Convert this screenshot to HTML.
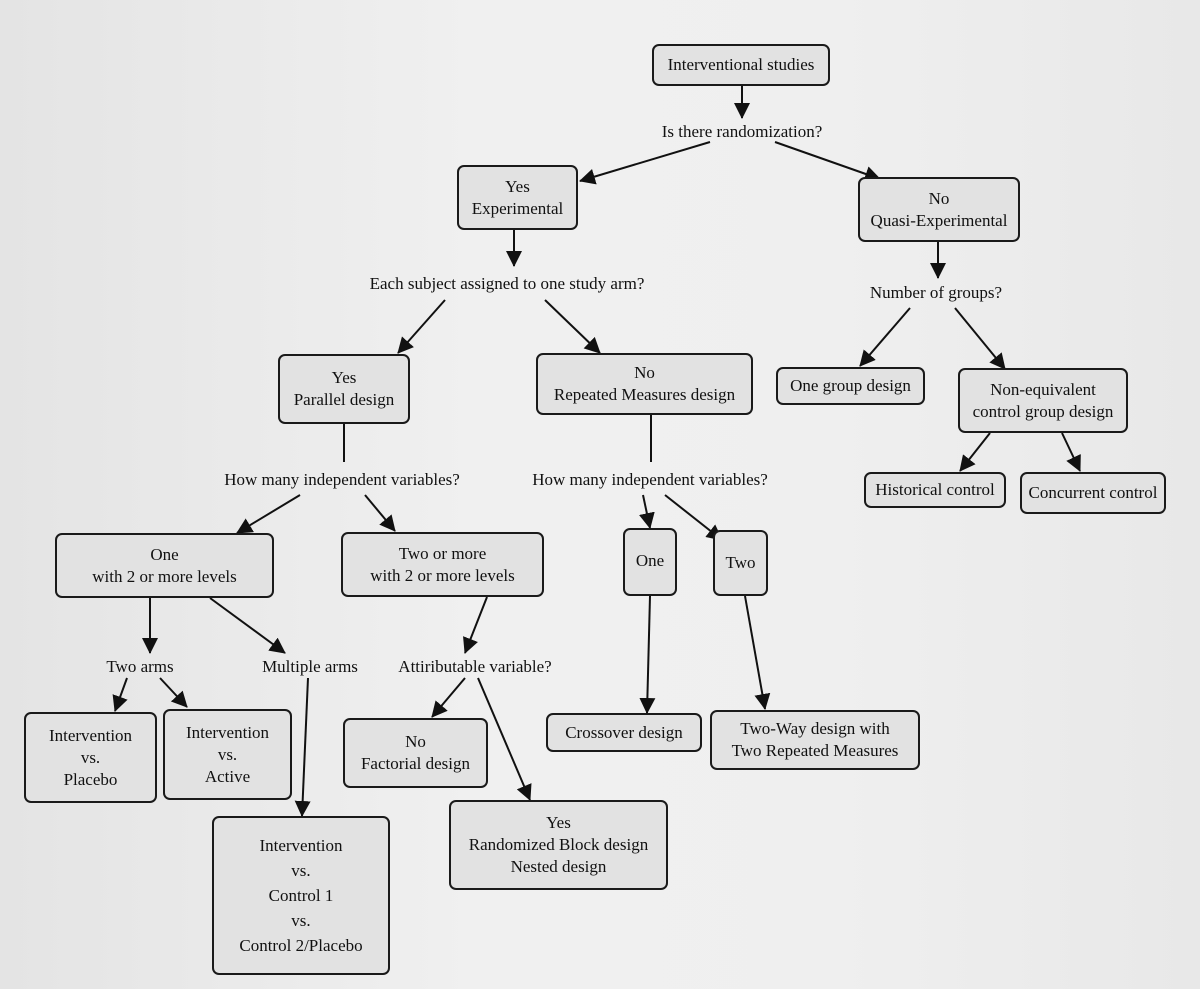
<!DOCTYPE html>
<html><head><meta charset="utf-8"><style>
html,body{margin:0;padding:0;}
body{width:1200px;height:989px;background:linear-gradient(90deg,#e4e4e4,#f0f0f0 40%,#efefef 70%,#e8e8e8);overflow:hidden;position:relative;font-family:"Liberation Serif",serif;color:#111;}
.b{position:absolute;box-sizing:border-box;border:2px solid #1a1a1a;border-radius:7px;background:#e2e2e2;display:flex;align-items:center;justify-content:center;text-align:center;font-size:17px;line-height:22px;}
.t{position:absolute;font-size:17px;white-space:nowrap;transform:translateX(-50%);}
svg{position:absolute;left:0;top:0;}
</style></head><body>
<svg width="1200" height="989">
<defs><marker id="a" markerWidth="10" markerHeight="10" refX="9" refY="5" orient="auto" markerUnits="userSpaceOnUse"><path d="M0,0 L10,5 L0,10 z" fill="#111"/></marker>
<marker id="h" markerWidth="16" markerHeight="16" refX="15" refY="8" orient="auto" markerUnits="userSpaceOnUse"><path d="M0,0 L16,8 L0,16 z" fill="#111"/></marker></defs>
<g stroke="#111" stroke-width="2" fill="none" marker-end="url(#h)">
<line x1="742" y1="86" x2="742" y2="118"/>
<line x1="710" y1="142" x2="580" y2="181"/>
<line x1="775" y1="142" x2="880" y2="179"/>
<line x1="514" y1="230" x2="514" y2="266"/>
<line x1="938" y1="242" x2="938" y2="278"/>
<line x1="445" y1="300" x2="398" y2="353"/>
<line x1="545" y1="300" x2="600" y2="353"/>
<line x1="910" y1="308" x2="860" y2="366"/>
<line x1="955" y1="308" x2="1005" y2="369"/>
<line x1="300" y1="495" x2="237" y2="533"/>
<line x1="365" y1="495" x2="395" y2="531"/>
<line x1="643" y1="495" x2="650" y2="528"/>
<line x1="665" y1="495" x2="722" y2="540"/>
<line x1="150" y1="598" x2="150" y2="653"/>
<line x1="210" y1="598" x2="285" y2="653"/>
<line x1="487" y1="597" x2="465" y2="653"/>
<line x1="127" y1="678" x2="115" y2="711"/>
<line x1="160" y1="678" x2="187" y2="707"/>
<line x1="308" y1="678" x2="302" y2="816"/>
<line x1="465" y1="678" x2="432" y2="717"/>
<line x1="478" y1="678" x2="530" y2="800"/>
<line x1="650" y1="596" x2="647" y2="713"/>
<line x1="745" y1="596" x2="765" y2="709"/>
<line x1="990" y1="433" x2="960" y2="471"/>
<line x1="1062" y1="433" x2="1080" y2="471"/>
</g>
<g stroke="#111" stroke-width="2">
<line x1="344" y1="424" x2="344" y2="462"/>
<line x1="651" y1="415" x2="651" y2="462"/>
</g>
</svg>
<div class="b" style="left:652px;top:44px;width:178px;height:42px;">Interventional studies</div>
<div class="t" style="left:742px;top:122px;">Is there randomization?</div>
<div class="b" style="left:457px;top:165px;width:121px;height:65px;">Yes<br>Experimental</div>
<div class="b" style="left:858px;top:177px;width:162px;height:65px;">No<br>Quasi-Experimental</div>
<div class="t" style="left:507px;top:274px;">Each subject assigned to one study arm?</div>
<div class="t" style="left:936px;top:283px;">Number of groups?</div>
<div class="b" style="left:278px;top:354px;width:132px;height:70px;">Yes<br>Parallel design</div>
<div class="b" style="left:536px;top:353px;width:217px;height:62px;">No<br>Repeated Measures design</div>
<div class="b" style="left:776px;top:367px;width:149px;height:38px;">One group design</div>
<div class="b" style="left:958px;top:368px;width:170px;height:65px;">Non-equivalent<br>control group design</div>
<div class="b" style="left:864px;top:472px;width:142px;height:36px;">Historical control</div>
<div class="b" style="left:1020px;top:472px;width:146px;height:42px;">Concurrent control</div>
<div class="t" style="left:342px;top:470px;">How many independent variables?</div>
<div class="t" style="left:650px;top:470px;">How many independent variables?</div>
<div class="b" style="left:55px;top:533px;width:219px;height:65px;">One<br>with 2 or more levels</div>
<div class="b" style="left:341px;top:532px;width:203px;height:65px;">Two or more<br>with 2 or more levels</div>
<div class="b" style="left:623px;top:528px;width:54px;height:68px;align-items:flex-start;padding-top:20px;">One</div>
<div class="b" style="left:713px;top:530px;width:55px;height:66px;align-items:flex-start;padding-top:20px;">Two</div>
<div class="t" style="left:140px;top:657px;">Two arms</div>
<div class="t" style="left:310px;top:657px;">Multiple arms</div>
<div class="t" style="left:475px;top:657px;">Attiributable variable?</div>
<div class="b" style="left:24px;top:712px;width:133px;height:91px;">Intervention<br>vs.<br>Placebo</div>
<div class="b" style="left:163px;top:709px;width:129px;height:91px;">Intervention<br>vs.<br>Active</div>
<div class="b" style="left:343px;top:718px;width:145px;height:70px;">No<br>Factorial design</div>
<div class="b" style="left:546px;top:713px;width:156px;height:39px;">Crossover design</div>
<div class="b" style="left:710px;top:710px;width:210px;height:60px;">Two-Way design with<br>Two Repeated Measures</div>
<div class="b" style="left:449px;top:800px;width:219px;height:90px;">Yes<br>Randomized Block design<br>Nested design</div>
<div class="b" style="left:212px;top:816px;width:178px;height:159px;line-height:25px;">Intervention<br>vs.<br>Control 1<br>vs.<br>Control 2/Placebo</div>
</body></html>
